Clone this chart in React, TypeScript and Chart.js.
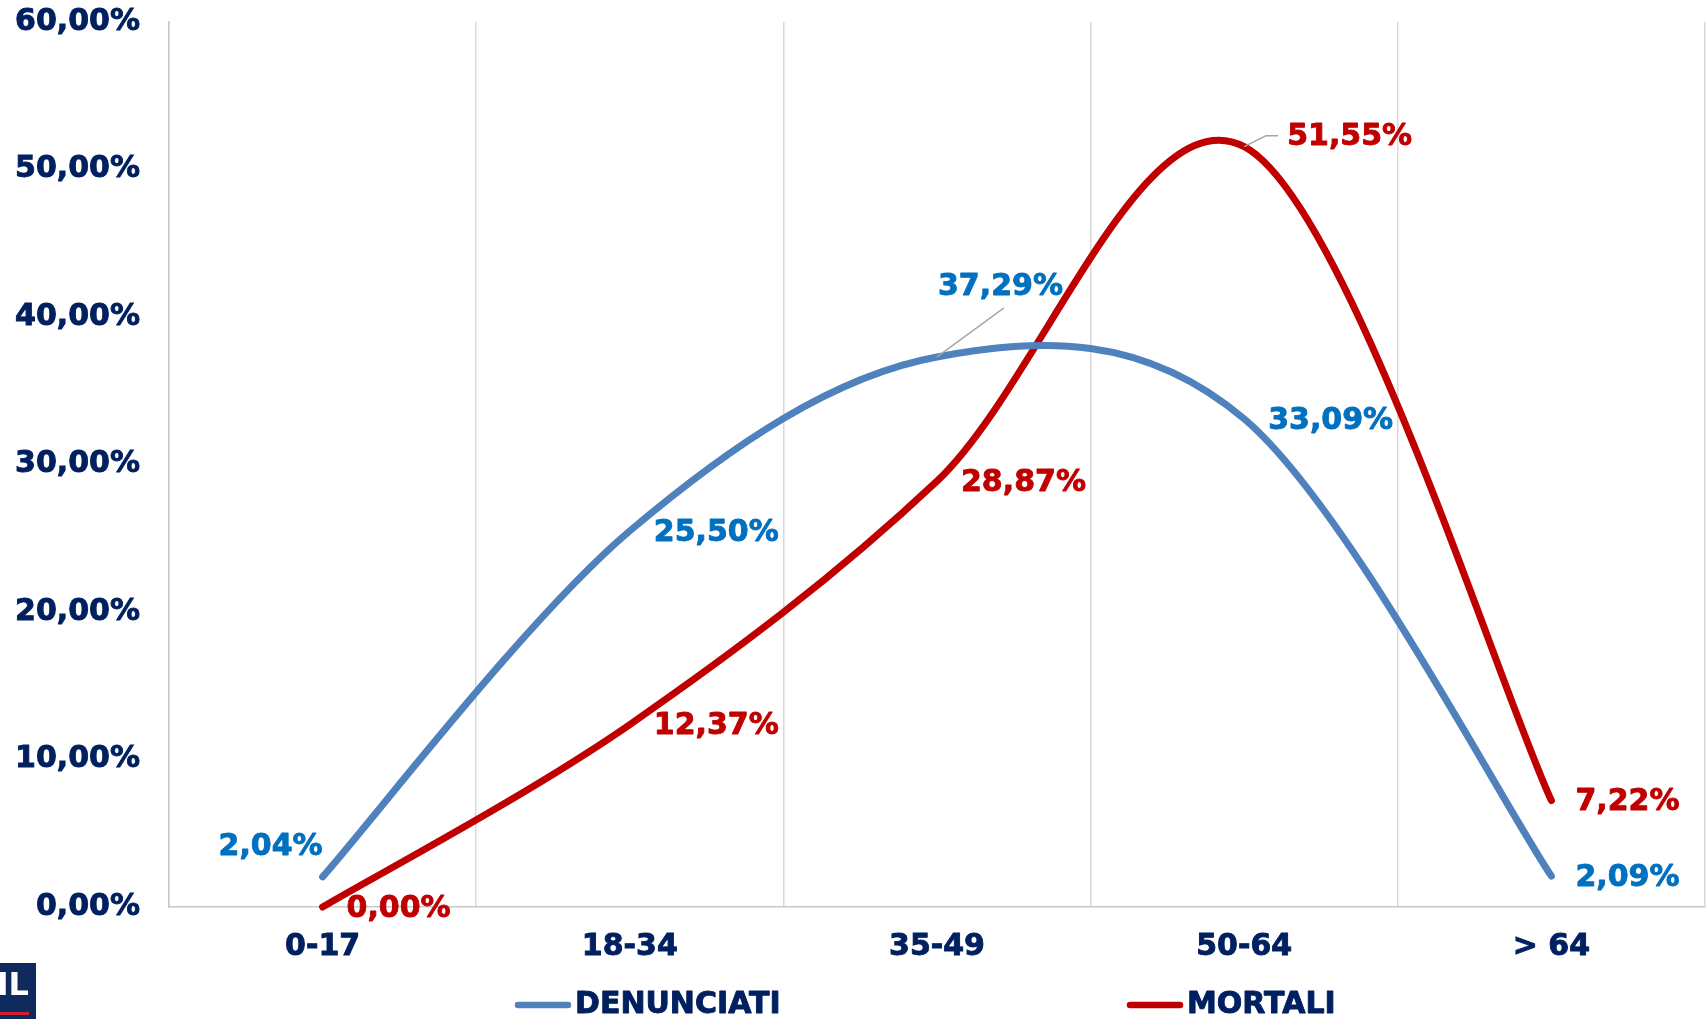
import React, { useEffect, useRef } from "react";
import { Chart, registerables } from "chart.js";

Chart.register(...registerables);

// ---- data ----
const categories = ["0-17", "18-34", "35-49", "50-64", "> 64"];
const seriesNames = ["DENUNCIATI", "MORTALI"];
const denunciati = [2.04, 25.5, 37.29, 33.09, 2.09];
const mortali = [0.0, 12.37, 28.87, 51.55, 7.22];
const yTicks = [0, 10, 20, 30, 40, 50, 60];

// ---- styles ----
const FONT = '"DejaVu Sans", Verdana, sans-serif';
const FSIZE = 30;
const STROKE = 0.9;
const NAVY = "#002060";
const LINE_BLUE = "#4f81bd";
const LABEL_BLUE = "#0070c0";
const RED = "#c00000";
const LINE_COLORS = [LINE_BLUE, RED];
const LABEL_COLORS = [LABEL_BLUE, RED];

type Place = { dx: number; dy: number; align: CanvasTextAlign; leader?: number[][] };
const R: Place = { dx: 24, dy: 2, align: "left" };
const labelPlacement: Place[][] = [
  [
    { dx: -52, dy: -30, align: "center" },
    R,
    { dx: 1, dy: -70, align: "left", leader: [[67, -49]] },
    R,
    R,
  ],
  [
    R,
    R,
    R,
    { dx: 43, dy: -9, align: "left", leader: [[22, -11], [34, -11]] },
    R,
  ],
];

const fmt = (v: number) => v.toFixed(2).replace(".", ",") + "%";

// Excel-style smoothing (Catmull-Rom control points on the scale-mapped points)
const excelSmooth = {
  id: "excelSmooth",
  beforeDatasetsDraw(chart: any) {
    chart.data.datasets.forEach((_ds: any, di: number) => {
      const meta = chart.getDatasetMeta(di);
      const line = meta.dataset;
      if (line && line.updateControlPoints) line.updateControlPoints(chart.chartArea, "x");
      const pts = meta.data;
      const n = pts.length;
      for (let i = 0; i < n; i++) {
        const prev = pts[Math.max(i - 1, 0)];
        const next = pts[Math.min(i + 1, n - 1)];
        const tx = (next.x - prev.x) / 6;
        const ty = (next.y - prev.y) / 6;
        pts[i].cp1x = pts[i].x - tx;
        pts[i].cp1y = pts[i].y - ty;
        pts[i].cp2x = pts[i].x + tx;
        pts[i].cp2y = pts[i].y + ty;
      }
    });
  },
};

const boldText = (ctx: any, text: string, x: number, y: number, color: string) => {
  ctx.fillStyle = color;
  ctx.strokeStyle = color;
  ctx.lineWidth = STROKE;
  ctx.lineJoin = "round";
  ctx.fillText(text, x, y);
  ctx.strokeText(text, x, y);
};

const labelPlugin = {
  id: "dataLabels",
  afterDatasetsDraw(chart: any) {
    const ctx = chart.ctx;
    ctx.save();
    ctx.font = `bold ${FSIZE}px ${FONT}`;
    ctx.textBaseline = "middle";
    chart.data.datasets.forEach((ds: any, di: number) => {
      const meta = chart.getDatasetMeta(di);
      meta.data.forEach((pt: any, i: number) => {
        const p = labelPlacement[di][i];
        if (p.leader) {
          ctx.strokeStyle = "#a6a6a6";
          ctx.lineWidth = 1.5;
          ctx.beginPath();
          ctx.moveTo(pt.x, pt.y);
          p.leader.forEach((l) => ctx.lineTo(pt.x + l[0], pt.y + l[1]));
          ctx.stroke();
        }
        ctx.textAlign = p.align;
        boldText(ctx, fmt(ds.data[i]), pt.x + p.dx, pt.y + p.dy, LABEL_COLORS[di]);
      });
    });
    ctx.restore();
  },
};

const legendPlugin = {
  id: "customLegend",
  afterDraw(chart: any) {
    const ctx = chart.ctx;
    const starts = [515, 1127];
    const y = 1005;
    ctx.save();
    ctx.font = `bold ${FSIZE}px ${FONT}`;
    ctx.textBaseline = "middle";
    ctx.textAlign = "left";
    seriesNames.forEach((name, i) => {
      ctx.strokeStyle = LINE_COLORS[i];
      ctx.lineWidth = 6.5;
      ctx.lineCap = "round";
      ctx.beginPath();
      ctx.moveTo(starts[i] + 3, y);
      ctx.lineTo(starts[i] + 53, y);
      ctx.stroke();
      ctx.lineCap = "butt";
      boldText(ctx, name, starts[i] + 60, y, NAVY);
    });
    // partial logo in bottom-left corner
    ctx.fillStyle = "#0f2a5c";
    ctx.fillRect(0, 963, 36, 56);
    ctx.fillStyle = "#ffffff";
    ctx.font = `bold 32px ${FONT}`;
    ctx.textAlign = "right";
    ctx.textBaseline = "alphabetic";
    ctx.fillText("IL", 29, 995);
    ctx.fillStyle = "#d0202e";
    ctx.fillRect(0, 1012, 29, 3);
    ctx.restore();
  },
};

export default function App() {
  const ref = useRef<HTMLCanvasElement | null>(null);
  useEffect(() => {
    if (!ref.current) return;
    const tickFont = { family: FONT, size: FSIZE, weight: "bold" as const };
    const chart = new Chart(ref.current, {
      type: "line",
      data: {
        labels: categories,
        datasets: [denunciati, mortali].map((d, i) => ({
          label: seriesNames[i],
          data: d,
          borderColor: LINE_COLORS[i],
          backgroundColor: LINE_COLORS[i],
          borderWidth: 7,
          borderCapStyle: "round" as const,
          tension: 0.4,
          pointRadius: 0,
          fill: false,
          clip: false as any,
        })),
      },
      options: {
        animation: false,
        responsive: false,
        devicePixelRatio: 1,
        layout: { padding: { top: 0, right: 2, left: 0, bottom: 0 } },
        plugins: { legend: { display: false }, tooltip: { enabled: false } },
        scales: {
          x: {
            offset: true,
            grid: { offset: true, color: "#d9d9d9", lineWidth: 1.5, drawTicks: false },
            border: { color: "#c8c8c8", width: 1.5 },
            ticks: {
              color: NAVY,
              textStrokeColor: NAVY,
              textStrokeWidth: STROKE,
              font: tickFont,
              padding: 22,
              maxRotation: 0,
            },
            afterFit: (s: any) => {
              s.height = 112;
              s.paddingLeft = 0;
              s.paddingRight = 0;
            },
          },
          y: {
            min: yTicks[0],
            max: yTicks[yTicks.length - 1],
            afterBuildTicks: (s: any) => {
              s.ticks = yTicks.map((v) => ({ value: v }));
            },
            ticks: {
              color: NAVY,
              textStrokeColor: NAVY,
              textStrokeWidth: STROKE,
              font: tickFont,
              padding: 29,
              callback: (v: any) => fmt(Number(v)),
            },
            grid: { display: false, drawTicks: false },
            border: { display: true, color: "#c8c8c8", width: 1.5 },
            afterFit: (s: any) => {
              s.width = 169;
              s.paddingTop = 22;
              s.paddingBottom = 0;
            },
          },
        },
      },
      plugins: [excelSmooth, labelPlugin, legendPlugin],
    });
    return () => chart.destroy();
  }, []);
  return (
    <div style={{ position: "absolute", left: 0, top: 0, width: 1707, height: 1019, background: "#fff" }}>
      <canvas ref={ref} width={1707} height={1019} style={{ display: "block", width: 1707, height: 1019 }} />
    </div>
  );
}
